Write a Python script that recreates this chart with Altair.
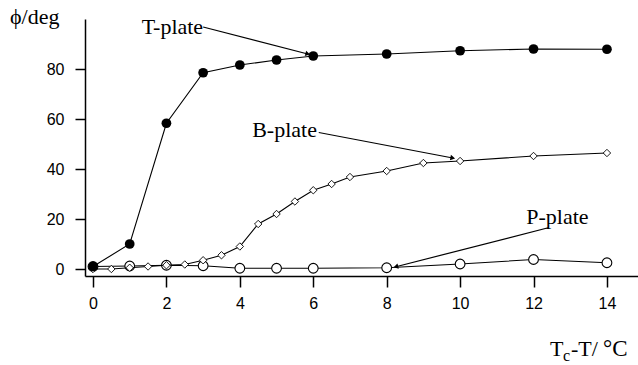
import math
import altair as alt
import pandas as pd

# ---- data ----
t_x = [0, 1, 2, 3, 4, 5, 6, 8, 10, 12, 14]
t_y = [1.0, 10.0, 58.3, 78.5, 81.6, 83.6, 85.2, 86.0, 87.3, 88.0, 87.9]

b_x = [0, 0.5, 1, 1.5, 2, 2.5, 3, 3.5, 4, 4.5, 5, 5.5, 6, 6.5, 7, 8, 9, 10, 12, 14]
b_y = [0.0, 0.0, 0.5, 1.0, 1.5, 1.8, 3.5, 5.5, 9.0, 18.0, 22.0, 27.0, 31.5, 34.0,
       36.8, 39.2, 42.4, 43.2, 45.2, 46.4]

p_x = [0, 1, 2, 3, 4, 5, 6, 8, 10, 12, 14]
p_y = [1.0, 1.2, 1.5, 1.3, 0.3, 0.3, 0.3, 0.5, 2.0, 3.8, 2.5]

x_ticks = [0, 2, 4, 6, 8, 10, 12, 14]
y_ticks = [0, 20, 40, 60, 80]

# annotation labels and their leader lines (data coordinates)
ann_label = ["T-plate", "B-plate", "P-plate"]
ann_tx = [3.0, 6.1, 13.5]
ann_ty = [97.0, 55.6, 20.9]
ann_x1 = [3.0, 6.15, 12.4]
ann_y1 = [96.8, 54.6, 16.5]
ann_x2 = [5.85, 9.8, 8.25]
ann_y2 = [86.0, 44.4, 0.9]

# x-axis title pieces (T, subscript c, rest)
xt_parts = ["T", "c", "-T/", "°C"]

X_DOM = [-0.218, 14.846]
Y_DOM = [-2.8, 100]
W, H = 553, 257

t_df = pd.DataFrame({"x": t_x, "y": t_y})
b_df = pd.DataFrame({"x": b_x, "y": b_y})
p_df = pd.DataFrame({"x": p_x, "y": p_y})

px_x = W / (X_DOM[1] - X_DOM[0])
px_y = H / (Y_DOM[1] - Y_DOM[0])
angles = []
for a, b, c, d in zip(ann_x1, ann_y1, ann_x2, ann_y2):
    dx = (c - a) * px_x
    dy = -(d - b) * px_y
    ang = math.degrees(math.atan2(dy, dx)) % 360
    angles.append(ang)

ann_df = pd.DataFrame({"label": ann_label, "tx": ann_tx, "ty": ann_ty,
                       "x1": ann_x1, "y1": ann_y1, "x2": ann_x2, "y2": ann_y2,
                       "ang": angles})

xs = alt.Scale(domain=X_DOM, nice=False, zero=False)
ys = alt.Scale(domain=Y_DOM, nice=False, zero=False)

x_axis = alt.Axis(values=x_ticks, title=None, grid=False, domainColor="black",
                  domainWidth=1.5, tickColor="black", tickWidth=1.5, tickSize=11,
                  labelFont="Liberation Sans", labelFontSize=16, labelColor="black",
                  labelPadding=8, labelFlush=False)
y_axis = alt.Axis(values=y_ticks, title=None, grid=False, domainColor="black",
                  domainWidth=1.5, tickColor="black", tickWidth=1.5, tickSize=10,
                  labelFont="Liberation Sans", labelFontSize=16, labelColor="black",
                  labelPadding=11, labelFlush=False)

base_axes = alt.Chart(t_df).mark_point(opacity=0).encode(
    x=alt.X("x:Q", scale=xs, axis=x_axis),
    y=alt.Y("y:Q", scale=ys, axis=y_axis),
)

def series(df, shape, size, filled, stroke_w=1.0):
    line = alt.Chart(df).mark_line(color="black", strokeWidth=1.1).encode(
        x=alt.X("x:Q", scale=xs), y=alt.Y("y:Q", scale=ys))
    if filled:
        pts = alt.Chart(df).mark_point(shape=shape, size=size, filled=True,
                                       color="black", opacity=1).encode(
            x=alt.X("x:Q", scale=xs), y=alt.Y("y:Q", scale=ys))
    else:
        pts = alt.Chart(df).mark_point(shape=shape, size=size, filled=True,
                                       fill="white", stroke="black",
                                       strokeWidth=stroke_w, opacity=1).encode(
            x=alt.X("x:Q", scale=xs), y=alt.Y("y:Q", scale=ys))
    return line + pts

p_layer = series(p_df, "circle", 95, False, 1.1)
b_layer = series(b_df, "diamond", 55, False, 0.9)
t_layer = series(t_df, "circle", 95, True)

leaders = alt.Chart(ann_df).mark_rule(color="black", strokeWidth=1.2).encode(
    x=alt.X("x1:Q", scale=xs), y=alt.Y("y1:Q", scale=ys),
    x2="x2:Q", y2="y2:Q")
heads = alt.Chart(ann_df).mark_point(shape="triangle-right", size=30, filled=True,
                                     color="black", opacity=1).encode(
    x=alt.X("x2:Q", scale=xs), y=alt.Y("y2:Q", scale=ys),
    angle=alt.Angle("ang:Q", scale=None))
labels = alt.Chart(ann_df).mark_text(font="Liberation Serif", fontSize=22,
                                     fontWeight="normal",
                                     align="right", baseline="middle",
                                     color="black").encode(
    x=alt.X("tx:Q", scale=xs), y=alt.Y("ty:Q", scale=ys), text="label:N")

title_df = pd.DataFrame({"t": ["ϕ/deg"]})
y_title = alt.Chart(title_df).mark_text(font="Liberation Serif", fontSize=22,
                                        fontWeight="normal",
                                        align="left", baseline="alphabetic",
                                        color="black").encode(
    x=alt.value(-75), y=alt.value(5), text="t:N")

def piece(txt, xpos, ypos, size):
    return alt.Chart(pd.DataFrame({"t": [txt]})).mark_text(
        font="Liberation Serif", fontSize=size, fontWeight="normal",
        align="left", baseline="alphabetic", color="black").encode(
        x=alt.value(xpos), y=alt.value(ypos), text="t:N")

xt1 = piece(xt_parts[0], 465, 337, 22)
xt2 = piece(xt_parts[1], 478, 342, 16)
xt3 = piece(xt_parts[2], 486, 337, 22)
xt4 = piece(xt_parts[3], 518, 337, 23)

chart = alt.layer(
    base_axes, p_layer, b_layer, t_layer, leaders, heads, labels,
    y_title, xt1, xt2, xt3, xt4
).properties(
    width=W, height=H,
    autosize=alt.AutoSizeParams(type="none"),
    padding={"left": 85, "top": 19, "right": 0, "bottom": 89},
    background="white",
).configure_view(strokeWidth=0)

chart.save("out.html", embed_options={"renderer": "svg", "actions": False})
